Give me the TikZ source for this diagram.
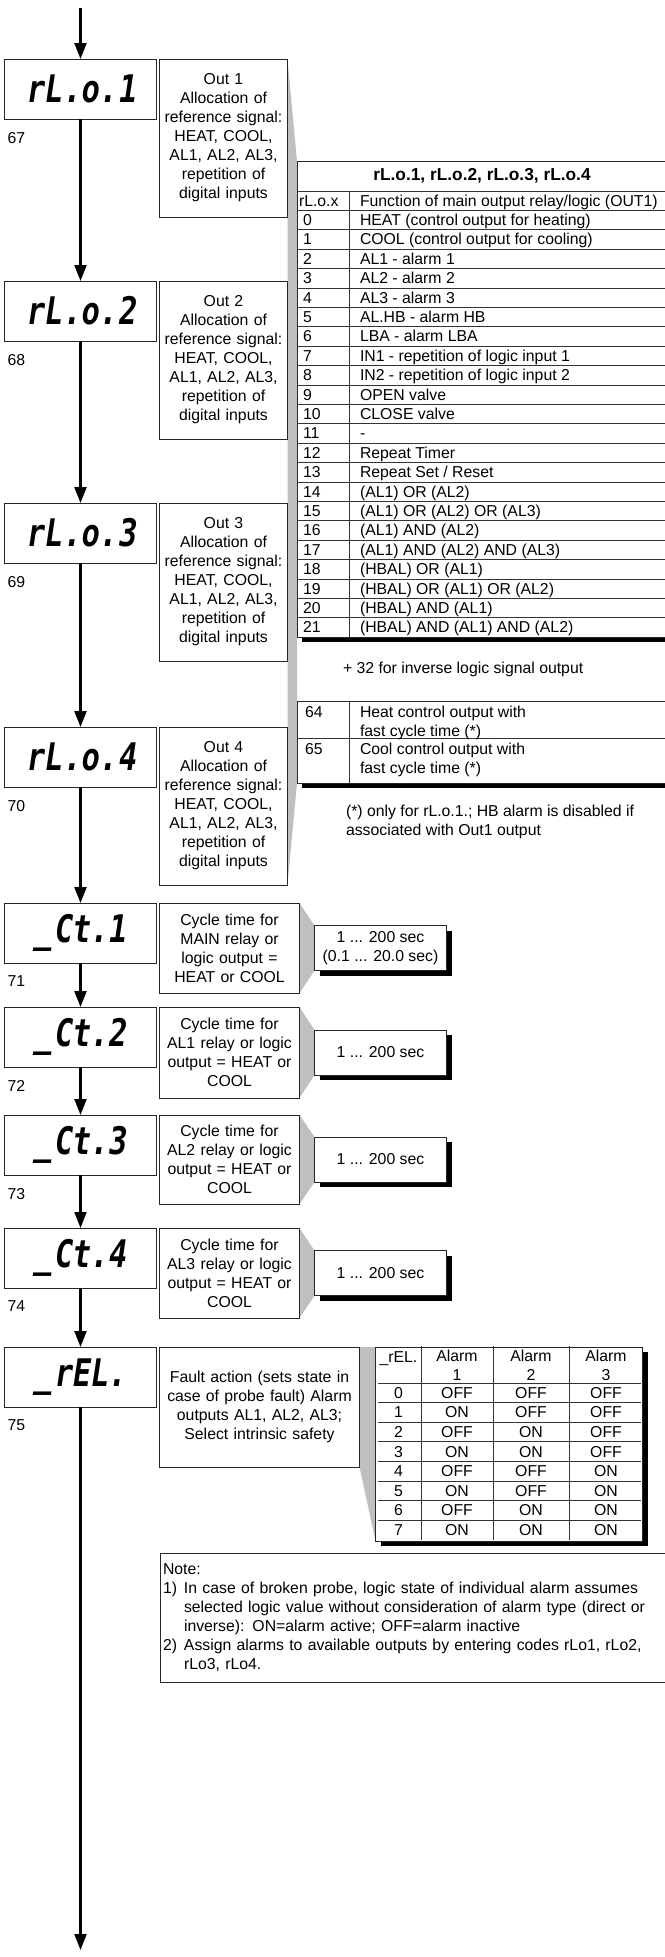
\documentclass[tikz,border=0pt]{standalone}
\usepackage{fontspec}
\setmainfont{Liberation Sans}
\newfontfamily\lcdfont{DejaVu Sans Mono}[FakeSlant=0.15,FakeStretch=0.8]
\usetikzlibrary{
  positioning,   % below=of, right=of
  arrows.meta,   % Triangle tips
  shadows        % black drop shadows of the value boxes
}
\newcommand\segfont{\lcdfont\bfseries\fontsize{38}{38}\selectfont}
\tikzset{
  every node/.style = {outer sep=0pt, inner sep=0pt},
  disp/.style = {draw=black!85, line width=1pt, minimum width=152pt,
    minimum height=60pt, font=\segfont},
  desc/.style = {draw=black!85, line width=0.9pt, fill=white, align=center,
    anchor=north west},
  valbox/.style = {draw=black!85, line width=0.9pt, fill=white, align=center,
    minimum width=132pt, minimum height=45pt,
    drop shadow={shadow xshift=5pt, shadow yshift=-5pt, opacity=1, fill=black}},
  tabbox/.style = {draw=black!85, line width=0.9pt, fill=white, anchor=north west,
    drop shadow={shadow xshift=5pt, shadow yshift=-5pt, opacity=1, fill=black}},
  num/.style = {anchor=north west},
  cell/.style = {anchor=base west},
  ccell/.style = {anchor=base},
  rule/.style = {draw=black!80, line width=0.7pt},
  wedge/.style = {fill=black!25},
  flow/.style = {line width=2.2pt, -{Triangle[length=16pt,width=12pt]}}
}
\pgfdeclarelayer{background}
\pgfsetlayers{background,main}

\begin{document}
\begin{tikzpicture}[x=1pt, y=-1pt, font=\fontsize{15.8}{19}\selectfont]
  \useasboundingbox (0,0) rectangle (664,1957);

  %% display boxes
  \node[disp] (rlo1) at (80.5,89) {rL.o.1};
  \node[disp] (rlo2) [below=162pt of rlo1] {rL.o.2};
  \node[disp] (rlo3) [below=162pt of rlo2] {rL.o.3};
  \node[disp] (rlo4) [below=164pt of rlo3] {rL.o.4};
  \node[disp] (ct1) [below=116pt of rlo4] {\_Ct.1};
  \node[disp] (ct2) [below=44pt of ct1] {\_Ct.2};
  \node[disp] (ct3) [below=48pt of ct2] {\_Ct.3};
  \node[disp] (ct4) [below=53pt of ct3] {\_Ct.4};
  \node[disp] (rel) [below=59pt of ct4] {\_rEL.};

  \coordinate (start) at (80.5,8);
  \coordinate (end) at (80.5,1950);

  %% parameter numbers
  \node[num] (n67) [below right=13pt and 3pt of rlo1.south west] {67};
  \node[num] (n68) [below right=13pt and 3pt of rlo2.south west] {68};
  \node[num] (n69) [below right=13pt and 3pt of rlo3.south west] {69};
  \node[num] (n70) [below right=13pt and 3pt of rlo4.south west] {70};
  \node[num] (n71) [below right=13pt and 3pt of ct1.south west] {71};
  \node[num] (n72) [below right=13pt and 3pt of ct2.south west] {72};
  \node[num] (n73) [below right=13pt and 3pt of ct3.south west] {73};
  \node[num] (n74) [below right=13pt and 3pt of ct4.south west] {74};
  \node[num] (n75) [below right=13pt and 3pt of rel.south west] {75};

  %% descriptions
  \node[desc, text width=128pt, minimum height=158pt] (d1) at ([xshift=3pt]rlo1.north east)
    {Out 1\\Allocation of\\reference signal:\\HEAT, COOL,\\AL1, AL2, AL3,\\repetition of\\digital inputs};
  \node[desc, text width=128pt, minimum height=158pt] (d2) at ([xshift=3pt]rlo2.north east)
    {Out 2\\Allocation of\\reference signal:\\HEAT, COOL,\\AL1, AL2, AL3,\\repetition of\\digital inputs};
  \node[desc, text width=128pt, minimum height=158pt] (d3) at ([xshift=3pt]rlo3.north east)
    {Out 3\\Allocation of\\reference signal:\\HEAT, COOL,\\AL1, AL2, AL3,\\repetition of\\digital inputs};
  \node[desc, text width=128pt, minimum height=158pt] (d4) at ([xshift=3pt]rlo4.north east)
    {Out 4\\Allocation of\\reference signal:\\HEAT, COOL,\\AL1, AL2, AL3,\\repetition of\\digital inputs};

  \node[desc, text width=140pt, minimum height=90pt] (c1d) at ([xshift=3pt]ct1.north east)
    {Cycle time for\\MAIN relay or\\logic output =\\HEAT or COOL};
  \node[desc, text width=140pt, minimum height=91pt] (c2d) at ([xshift=3pt]ct2.north east)
    {Cycle time for\\AL1 relay or logic\\output = HEAT or\\COOL};
  \node[desc, text width=140pt, minimum height=89pt] (c3d) at ([xshift=3pt]ct3.north east)
    {Cycle time for\\AL2 relay or logic\\output = HEAT or\\COOL};
  \node[desc, text width=140pt, minimum height=90pt] (c4d) at ([xshift=3pt]ct4.north east)
    {Cycle time for\\AL3 relay or logic\\output = HEAT or\\COOL};

  \node[desc, text width=200pt, minimum height=120pt] (rd) at ([xshift=3pt]rel.north east)
    {Fault action (sets state in\\case of probe fault) Alarm\\outputs AL1, AL2, AL3;\\Select intrinsic safety};

  %% value boxes
  \node[valbox] (v1) [right=15pt of c1d] {1 ... 200 sec\\(0.1 ... 20.0 sec)};
  \node[valbox] (v2) [right=15pt of c2d] {1 ... 200 sec};
  \node[valbox] (v3) [right=15pt of c3d] {1 ... 200 sec};
  \node[valbox] (v4) [right=15pt of c4d] {1 ... 200 sec};

  %% table of output functions
  \node[tabbox, minimum width=370pt, minimum height=476pt] (tab) at (297,161) {};
  \node[font=\bfseries\fontsize{17.3}{19}\selectfont] (ttl) at (482,176) {rL.o.1, rL.o.2, rL.o.3, rL.o.4};
  \draw[rule] (297,191) -- (667,191);
  \draw[rule] (349,191) -- (349,637);
  \node[cell] (hx) at (299,206) {rL.o.x};
  \node[cell] (hf) at (360,206) {Function of main output relay/logic (OUT1)};
  \foreach \k in {1,...,22}
    \draw[rule] (297,{191+19.4*\k}) -- (667,{191+19.4*\k});
  \foreach \n/\t [count=\k] in {0/HEAT (control output for heating),
      1/COOL (control output for cooling), 2/AL1 - alarm 1, 3/AL2 - alarm 2,
      4/AL3 - alarm 3, 5/AL.HB - alarm HB, 6/LBA - alarm LBA,
      7/IN1 - repetition of logic input 1, 8/IN2 - repetition of logic input 2,
      9/OPEN valve, 10/CLOSE valve, 11/-, 12/Repeat Timer,
      13/{Repeat Set / Reset}, 14/(AL1) OR (AL2), 15/(AL1) OR (AL2) OR (AL3),
      16/(AL1) AND (AL2), 17/(AL1) AND (AL2) AND (AL3), 18/(HBAL) OR (AL1),
      19/(HBAL) OR (AL1) OR (AL2), 20/(HBAL) AND (AL1),
      21/(HBAL) AND (AL1) AND (AL2)} {
    \node[cell] (no\k) at (303,{206+19.4*\k}) {\n};
    \node[cell] (fn\k) at (360,{206+19.4*\k}) {\t};
  }

  \node[cell] (inv) at (343,673) {+ 32 for inverse logic signal output};

  %% fast cycle table
  \node[tabbox, minimum width=370pt, minimum height=82pt] (tab2) at (297,701) {};
  \draw[rule] (297,738) -- (667,738);
  \draw[rule] (349,701) -- (349,783);
  \node[cell] (no64) at (305,717) {64};
  \node[cell] (no65) at (305,754) {65};
  \node[anchor=north west, align=left] (fn64) at (360,706) {Heat control output with\\fast cycle time (*)};
  \node[anchor=north west, align=left] (fn65) at (360,743) {Cool control output with\\fast cycle time (*)};

  \node[anchor=north west, align=left] (foot) at (346,805)
    {(*) only for rL.o.1.; HB alarm is disabled if\\associated with Out1 output};

  %% fault action table
  \node[tabbox, minimum width=267pt, minimum height=194pt] (rtab) at ([xshift=16pt]rd.north east) {};
  \foreach \x in {421,493,569}
    \draw[rule] (\x,1346) -- (\x,1540);
  \foreach \k in {0,...,7}
    \draw[rule] (378,{1383+19.6*\k}) -- (641,{1383+19.6*\k});
  \node[ccell] (hrel) at (398.5,1362) {\_rEL.};
  \node[ccell, align=center] (ha1) at (457,1380.5) {Alarm\\1};
  \node[ccell, align=center] (ha2) at (531,1380.5) {Alarm\\2};
  \node[ccell, align=center] (ha3) at (606,1380.5) {Alarm\\3};
  \foreach \a/\b/\c [count=\k from 0] in {OFF/OFF/OFF, ON/OFF/OFF, OFF/ON/OFF,
      ON/ON/OFF, OFF/OFF/ON, ON/OFF/ON, OFF/ON/ON, ON/ON/ON} {
    \node[ccell] (r\k) at (398.5,{1398.2+19.6*\k}) {\k};
    \node[ccell] (ra\k) at (457,{1398.2+19.6*\k}) {\a};
    \node[ccell] (rb\k) at (531,{1398.2+19.6*\k}) {\b};
    \node[ccell] (rc\k) at (606,{1398.2+19.6*\k}) {\c};
  }

  %% note
  \node[draw=black!85, line width=0.9pt, anchor=north west, align=left,
    text width=500pt, minimum height=129pt, inner xsep=3pt, inner ysep=8pt] (note) at (160,1553)
    {Note:\\
     \makebox[21pt][l]{1)}In case of broken probe, logic state of individual alarm assumes\\
     \hspace*{21pt}selected logic value without consideration of alarm type (direct or\\
     \hspace*{21pt}inverse): ON=alarm active; OFF=alarm inactive\\
     \makebox[21pt][l]{2)}Assign alarms to available outputs by entering codes rLo1, rLo2,\\
     \hspace*{21pt}rLo3, rLo4.};

  %% grey callouts
  \begin{pgfonlayer}{background}
    \fill[wedge] (d1.north east) -- (tab.north west) -- (tab2.south west) -- (d4.south east) -- cycle;
    \fill[wedge] (c1d.north east) -- (v1.north west) -- (v1.south west) -- (c1d.south east) -- cycle;
    \fill[wedge] (c2d.north east) -- (v2.north west) -- (v2.south west) -- (c2d.south east) -- cycle;
    \fill[wedge] (c3d.north east) -- (v3.north west) -- (v3.south west) -- (c3d.south east) -- cycle;
    \fill[wedge] (c4d.north east) -- (v4.north west) -- (v4.south west) -- (c4d.south east) -- cycle;
    \fill[wedge] (rd.north east) -- (rtab.north west) -- (rtab.south west) -- (rd.south east) -- cycle;
  \end{pgfonlayer}

  %% arrows
  \draw[flow] (start) -- (rlo1);
  \draw[flow] (rlo1) -- (rlo2);
  \draw[flow] (rlo2) -- (rlo3);
  \draw[flow] (rlo3) -- (rlo4);
  \draw[flow] (rlo4) -- (ct1);
  \draw[flow] (ct1) -- (ct2);
  \draw[flow] (ct2) -- (ct3);
  \draw[flow] (ct3) -- (ct4);
  \draw[flow] (ct4) -- (rel);
  \draw[flow] (rel) -- (end);

\end{tikzpicture}
\end{document}
